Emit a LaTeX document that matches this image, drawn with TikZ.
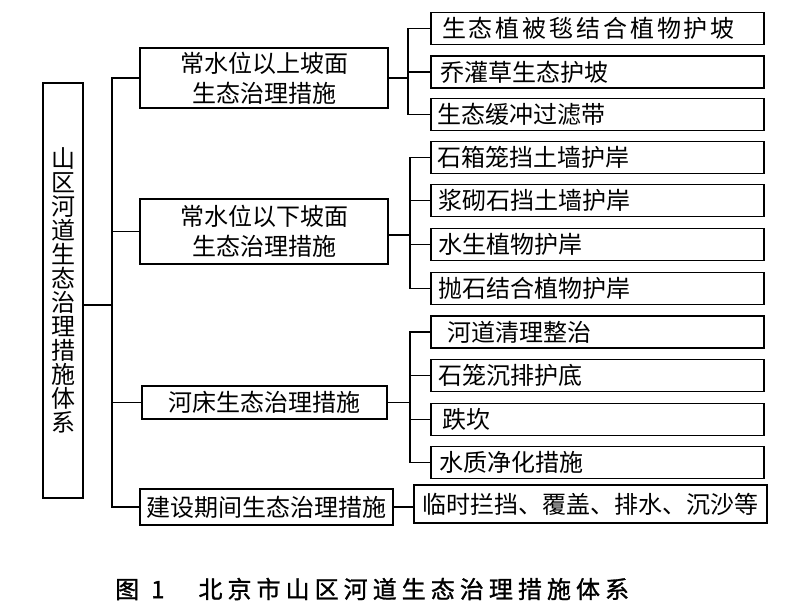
\documentclass[tikz,border=0pt]{standalone}
\usepackage{fontspec}
\newfontfamily\cjk{Noto Sans CJK SC}
\begin{document}
\begin{tikzpicture}[x=1pt,y=-1pt,
  box/.style={draw,line width=1.3pt,inner sep=0pt,font=\cjk\fontsize{24}{30}\selectfont},
  mid/.style={box,align=center},
  leaf/.style={box,minimum width=333pt,minimum height=32pt,text width=321pt,align=left},
  wire/.style={line width=1.3pt}]
\useasboundingbox (0,0) rectangle (790,615);
\fill[white] (0,0) rectangle (790,615);
% root
\node[box,minimum width=40pt,minimum height=415pt,align=center,font=\cjk\fontsize{24}{24}\selectfont] (root) at (63,290.5)
  {山\\区\\河\\道\\生\\态\\治\\理\\措\\施\\体\\系};
% level 1
\node[mid,minimum width=248pt,minimum height=60pt] (A) at (264,78) {常水位以上坡面\\生态治理措施};
\node[mid,minimum width=248pt,minimum height=65pt] (B) at (264,231.5) {常水位以下坡面\\生态治理措施};
\node[mid,minimum width=245pt,minimum height=33pt] (C) at (264.5,402.5) {河床生态治理措施};
\node[mid,minimum width=253pt,minimum height=36pt] (D) at (266.5,507) {建设期间生态治理措施};
% leaves
\node[leaf] (A1) at (597.5,28.5) {\hspace{5pt}\addfontfeature{LetterSpace=12}生态植被毯结合植物护坡};
\node[leaf] (A2) at (597.5,72) {\hspace{3pt}乔灌草生态护坡};
\node[leaf] (A3) at (597.5,114.5) {生态缓冲过滤带};
\node[leaf] (B1) at (597.5,157.5) {石箱笼挡土墙护岸};
\node[leaf] (B2) at (597.5,200.5) {\hspace{1pt}浆砌石挡土墙护岸};
\node[leaf] (B3) at (597.5,244.5) {\hspace{1pt}水生植物护岸};
\node[leaf] (B4) at (597.5,288.5) {\hspace{1pt}抛石结合植物护岸};
\node[leaf] (C1) at (597.5,332) {\hspace{10pt}河道清理整治};
\node[leaf] (C2) at (597.5,375.5) {\hspace{1pt}石笼沉排护底};
\node[leaf] (C3) at (597.5,419.5) {\hspace{5pt}跌坎};
\node[leaf] (C4) at (597.5,462.5) {\hspace{2pt}水质净化措施};
\node[box,minimum width=353pt,minimum height=38pt] (D1) at (590.5,504) {临时拦挡、覆盖、排水、沉沙等};
% junction coordinates
\coordinate (tk) at (112,0);
\coordinate (j0) at (112,305);
\coordinate (sA) at (408,0);
\coordinate (sB) at (410,0);
\coordinate (sC) at (410,0);
% root to trunk
\draw[wire] (j0 -| root.east) -- (j0);
\draw[wire] (A.west) -- (A.west -| tk) -- (D.west -| tk) -- (D.west);
\draw[wire] (B.west) -- (B.west -| tk);
\draw[wire] (C.west) -- (C.west -| tk);
% A group
\draw[wire] (A.east) -- (A.east -| sA);
\draw[wire] (A1.west) -- (A1.west -| sA) -- (A3.west -| sA) -- (A3.west);
\draw[wire] (A2.west) -- (A2.west -| sA);
% B group
\draw[wire] ([yshift=-3.5pt]B.east) -- ([yshift=-3.5pt]B.east -| sB);
\draw[wire] (B1.west) -- (B1.west -| sB) -- (B4.west -| sB) -- (B4.west);
\draw[wire] (B2.west) -- (B2.west -| sB);
\draw[wire] (B3.west) -- (B3.west -| sB);
% C group
\draw[wire] (C.east) -- (C.east -| sC);
\draw[wire] (C1.west) -- (C1.west -| sC) -- (C4.west -| sC) -- (C4.west);
\draw[wire] (C2.west) -- (C2.west -| sC);
\draw[wire] (C3.west) -- (C3.west -| sC);
% D group
\draw[wire] (D.east) -- (D.east -| D1.west);
% caption
\node[anchor=west,inner sep=0pt,font=\cjk\fontsize{24}{28}\selectfont\addfontfeature{FakeBold=1.2}] (cap) at (115,589)
  {图\hspace{12pt}1\hspace{34pt}{\addfontfeature{LetterSpace=21}北京市山区河道生态治理措施体系}};
\end{tikzpicture}
\end{document}
